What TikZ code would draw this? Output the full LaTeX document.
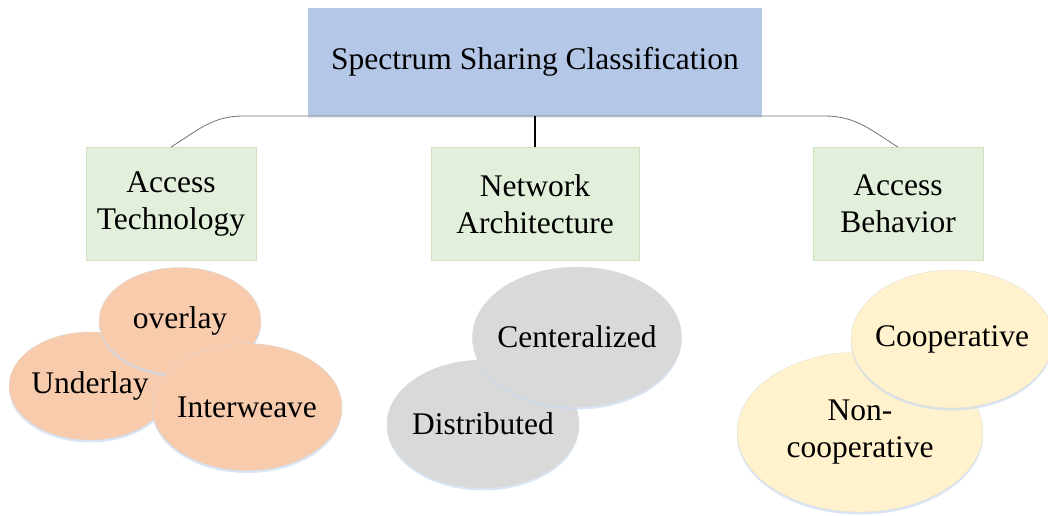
\documentclass[tikz,border=0pt]{standalone}
\usepackage{fontspec}
\setmainfont{Liberation Serif}
\usetikzlibrary{positioning, shapes.geometric, shadows}
\definecolor{rootblue}{HTML}{B4C7E7}
\definecolor{catgreen}{HTML}{E2EFDA}
\definecolor{catedge}{HTML}{CFE3C3}
\definecolor{leaforange}{HTML}{F8CBAD}
\definecolor{leafgray}{HTML}{D9D9D9}
\definecolor{leafyellow}{HTML}{FFF2CC}
\definecolor{glow}{HTML}{C9DAF0}
\tikzset{
    root/.style={rectangle, fill=rootblue, minimum width=454pt, minimum height=108pt,
        font=\fontsize{31.5}{37}\selectfont,
        drop shadow={shadow xshift=0pt, shadow yshift=-2pt, fill=glow, opacity=0.6}},
    category/.style={rectangle, fill=catgreen, draw=catedge, line width=0.8pt,
        minimum width=170pt, minimum height=113pt, align=center,
        font=\fontsize{31.5}{37}\selectfont},
    leaf/.style={ellipse, inner sep=0pt, draw=white!85!black, line width=0.3pt,
        drop shadow={shadow xshift=0pt, shadow yshift=-2.5pt, fill=glow, opacity=0.7}},
    leaftext/.style={align=center, inner sep=0pt, font=\fontsize{31.5}{37}\selectfont},
    branch/.style={draw=black!55, line width=0.8pt},
    stem/.style={draw=black, line width=1.6pt}
}

\begin{document}
\begin{tikzpicture}[x=1pt, y=-1pt]
    \useasboundingbox (0,0) rectangle (1048,515);
    % Root
    \node[root] (root) at (535,62) {Spectrum Sharing Classification};
    % Categories
    \node[category] (tech) at (171,204) {Access\\Technology};
    \node[category, minimum width=208pt] (arch) at (535,204) {Network\\Architecture};
    \node[category] (behav) at (898,204) {Access\\Behavior};
    % Branches
    \coordinate (lbend) at (243,116);
    \coordinate (rbend) at (825,116);
    \draw[branch] (tech.north) to[out=32, in=180] (lbend) -- (rbend)
        to[out=0, in=148] (behav.north);
    \draw[stem] (root.south) -- (arch.north);
    % Access technology leaves
    \node[leaf, fill=leaforange, minimum width=162pt, minimum height=108pt,
        label={[leaftext]center:Underlay}] (underlay) at (90,386) {};
    \node[leaf, fill=leaforange, minimum width=162pt, minimum height=107pt,
        label={[leaftext]center:overlay}] (overlay) at (180,321) {};
    \node[leaf, fill=leaforange, minimum width=190pt, minimum height=127pt,
        label={[leaftext]center:Interweave}] (interweave) at (247,407) {};
    % Network architecture leaves
    \node[leaf, fill=leafgray, minimum width=192pt, minimum height=128pt,
        label={[leaftext]center:Distributed}] (distributed) at (483,424) {};
    \node[leaf, fill=leafgray, minimum width=209pt, minimum height=140pt,
        label={[leaftext]center:Centeralized}] (centeralized) at (577,337) {};
    % Access behavior leaves
    \node[leaf, fill=leafyellow, minimum width=246pt, minimum height=160pt,
        label={[leaftext]center:Non-\\cooperative}] (noncoop) at (860,432) {};
    \node[leaf, fill=leafyellow, minimum width=202pt, minimum height=138pt,
        label={[leaftext]center:Cooperative}] (coop) at (952,339) {};
\end{tikzpicture}
\end{document}
